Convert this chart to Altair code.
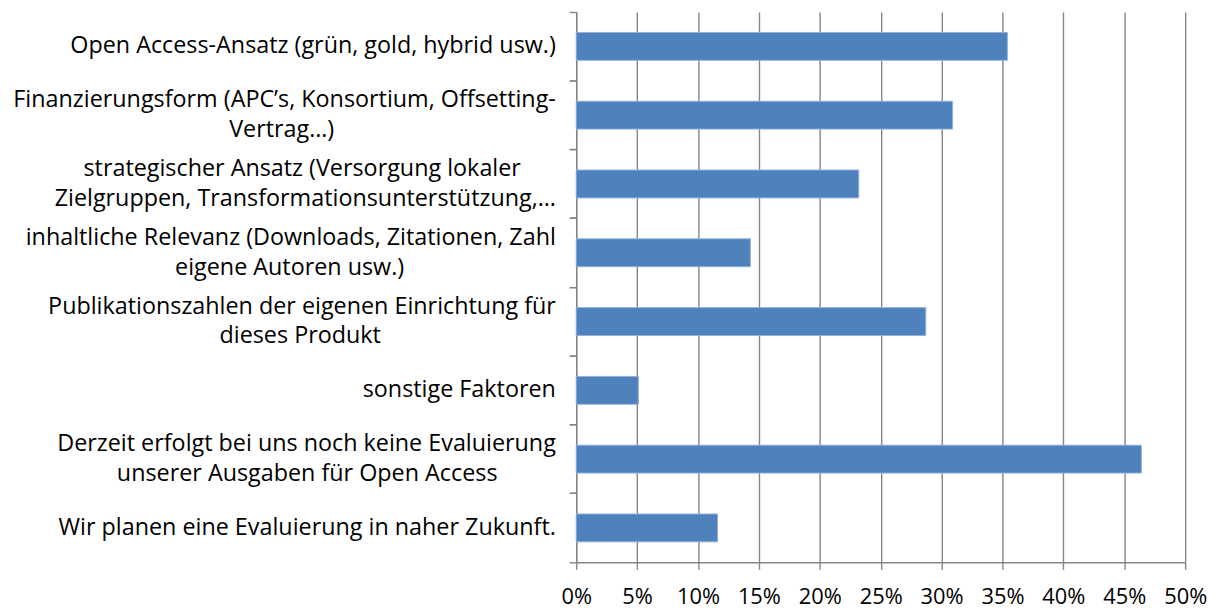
import altair as alt
import pandas as pd

# --- data ---------------------------------------------------------------
label_lines = [
    ["Open Access-Ansatz (grün, gold, hybrid usw.)"],
    ["Finanzierungsform (APC’s, Konsortium, Offsetting-", "Vertrag…)"],
    ["strategischer Ansatz (Versorgung lokaler", "Zielgruppen, Transformationsunterstützung,…"],
    ["inhaltliche Relevanz (Downloads, Zitationen, Zahl", "eigene Autoren usw.)"],
    ["Publikationszahlen der eigenen Einrichtung für", "dieses Produkt"],
    ["sonstige Faktoren"],
    ["Derzeit erfolgt bei uns noch keine Evaluierung", "unserer Ausgaben für Open Access"],
    ["Wir planen eine Evaluierung in naher Zukunft."],
]
shares = [0.354, 0.309, 0.232, 0.143, 0.287, 0.051, 0.464, 0.116]
tick_values = [0, 0.05, 0.10, 0.15, 0.20, 0.25, 0.30, 0.35, 0.40, 0.45, 0.50]

# --- rough Open Sans advance widths (em) so wrapped lines can be centred --
_w = {
    "a": .556, "b": .613, "c": .480, "d": .613, "e": .561, "f": .336, "g": .546,
    "h": .613, "i": .258, "j": .258, "k": .525, "l": .258, "m": .930, "n": .613,
    "o": .600, "p": .613, "q": .613, "r": .408, "s": .477, "t": .352, "u": .613,
    "v": .500, "w": .775, "x": .520, "y": .500, "z": .468, "ü": .613, "ä": .556,
    "ö": .600, " ": .260, "(": .296, ")": .296, ",": .245, ".": .266, "-": .322,
    "’": .164, "…": .798, "A": .633, "C": .632, "D": .718, "E": .556, "F": .494,
    "K": .599, "O": .778, "P": .586, "R": .589, "T": .553, "V": .584, "W": .898,
    "Z": .559,
}


def text_em(s):
    return sum(_w.get(ch, 0.6) for ch in s)


def centred_block(lines):
    widest = max(text_em(l) for l in lines)
    out = []
    for l in lines:
        n = int(round(widest - text_em(l)))  # en spaces = half the gap in em
        # closing word joiner keeps the padding from being trimmed
        out.append(l + ("\u2002" * n + "\u2060" if n else ""))
    return "|".join(out)


labels = [centred_block(l) for l in label_lines]
df = pd.DataFrame({"label": labels, "share": shares})

GRAY = "#868686"
FONT = "Open Sans"
LINE_H = 30
LW = 1.4

x_enc = alt.X(
    "share:Q",
    scale=alt.Scale(domain=[0, 0.5], nice=False),
    axis=alt.Axis(
        values=tick_values, format=".0%", title=None, grid=True,
        gridColor=GRAY, gridWidth=LW, domainColor=GRAY, domainWidth=LW,
        tickColor=GRAY, tickWidth=LW, tickSize=7, labelFont=FONT,
        labelFontSize=22, labelColor="#000000", labelPadding=17,
        labelFlush=False,
    ),
)

y_scale = alt.Scale(paddingInner=0, paddingOuter=0)

bars = alt.Chart(df).mark_bar(
    height={"band": 0.405}, color="#4F81BD", stroke="#8FB0DC", strokeWidth=1
).encode(
    x=x_enc,
    y=alt.Y(
        "label:N", sort=labels, scale=y_scale,
        axis=alt.Axis(
            title=None, orient="left", bandPosition=0, domainColor=GRAY,
            domainWidth=LW, tickColor=GRAY, tickWidth=LW, tickSize=7,
            labelFont=FONT, labelFontSize=23.5, labelColor="#000000",
            labelLimit=800, labelPadding=14,
            labelExpr="split(datum.label, '|')", labelLineHeight=LINE_H,
            labelAlign="right", labelBaseline="middle", grid=False,
            # centre two-line labels on their band
            labelOffset={
                "condition": {"test": "indexof(datum.label, '|') >= 0",
                              "value": -LINE_H / 2},
                "value": 0,
            },
        ),
    ),
)

# second (label-less) axis to draw the closing tick at the bottom of each band
closing = alt.Chart(df).mark_bar(height={"band": 0.405}, opacity=0).encode(
    x=x_enc,
    y=alt.Y(
        "label:N", sort=labels, scale=y_scale,
        axis=alt.Axis(
            title=None, orient="left", bandPosition=1, labels=False,
            domain=False, tickColor=GRAY, tickWidth=LW, tickSize=7, grid=False,
        ),
    ),
)

chart = (
    alt.layer(bars, closing)
    .resolve_axis(y="independent")
    .properties(
        width=613, height=554,
        autosize=alt.AutoSizeParams(type="none"),
        padding={"left": 572, "top": 2, "right": 25, "bottom": 48},
        background="white",
    )
    .configure_view(strokeWidth=0)
)

chart.save("out.html", embed_options={"renderer": "svg", "actions": False})
